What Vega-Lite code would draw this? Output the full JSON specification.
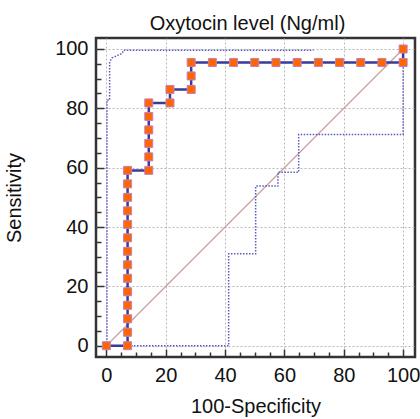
{
  "$schema": "https://vega.github.io/schema/vega-lite/v6.json",
  "width": 319,
  "height": 319,
  "autosize": {"type": "none"},
  "padding": {"left": 96, "top": 38, "right": 5, "bottom": 62},
  "background": "white",
  "title": {"text": "Oxytocin level (Ng/ml)", "font": "Liberation Sans", "fontSize": 20, "fontWeight": "normal", "color": "#111", "offset": 4, "dx": -8},
  "config": {
    "view": {"stroke": "#333", "strokeWidth": 2.5},
    "axis": {"labelFont": "Liberation Sans", "labelFontSize": 20, "labelColor": "#111", "titleFont": "Liberation Sans", "titleFontSize": 20, "titleFontWeight": "normal", "titleColor": "#111"}
  },
  "datasets": {
    "roc": [
      {"i": 1, "x": 0, "y": 0},
      {"i": 2, "x": 7.143, "y": 0},
      {"i": 3, "x": 7.143, "y": 4.545},
      {"i": 4, "x": 7.143, "y": 9.091},
      {"i": 5, "x": 7.143, "y": 13.636},
      {"i": 6, "x": 7.143, "y": 18.182},
      {"i": 7, "x": 7.143, "y": 22.727},
      {"i": 8, "x": 7.143, "y": 27.273},
      {"i": 9, "x": 7.143, "y": 31.818},
      {"i": 10, "x": 7.143, "y": 36.364},
      {"i": 11, "x": 7.143, "y": 40.909},
      {"i": 12, "x": 7.143, "y": 45.455},
      {"i": 13, "x": 7.143, "y": 50},
      {"i": 14, "x": 7.143, "y": 54.545},
      {"i": 15, "x": 7.143, "y": 59.091},
      {"i": 16, "x": 14.286, "y": 59.091},
      {"i": 17, "x": 14.286, "y": 63.636},
      {"i": 18, "x": 14.286, "y": 68.182},
      {"i": 19, "x": 14.286, "y": 72.727},
      {"i": 20, "x": 14.286, "y": 77.273},
      {"i": 21, "x": 14.286, "y": 81.818},
      {"i": 22, "x": 21.429, "y": 81.818},
      {"i": 23, "x": 21.429, "y": 86.364},
      {"i": 24, "x": 28.571, "y": 86.364},
      {"i": 25, "x": 28.571, "y": 90.909},
      {"i": 26, "x": 28.571, "y": 95.455},
      {"i": 27, "x": 35.714, "y": 95.455},
      {"i": 28, "x": 42.857, "y": 95.455},
      {"i": 29, "x": 50, "y": 95.455},
      {"i": 30, "x": 57.143, "y": 95.455},
      {"i": 31, "x": 64.286, "y": 95.455},
      {"i": 32, "x": 71.429, "y": 95.455},
      {"i": 33, "x": 78.571, "y": 95.455},
      {"i": 34, "x": 85.714, "y": 95.455},
      {"i": 35, "x": 92.857, "y": 95.455},
      {"i": 36, "x": 100, "y": 95.455},
      {"i": 37, "x": 100, "y": 100}
    ],
    "upper": [
      {"i": 1, "x": 0.2, "y": 0},
      {"i": 2, "x": 0.2, "y": 82.8},
      {"i": 3, "x": 1.1, "y": 82.8},
      {"i": 4, "x": 1.1, "y": 95.7},
      {"i": 5, "x": 1.9, "y": 97.0},
      {"i": 6, "x": 5.3, "y": 98.5},
      {"i": 7, "x": 5.8, "y": 99.6},
      {"i": 8, "x": 69.8, "y": 99.6}
    ],
    "lower": [
      {"i": 1, "x": 0.2, "y": 0},
      {"i": 2, "x": 41.2, "y": 0},
      {"i": 3, "x": 41.2, "y": 31},
      {"i": 4, "x": 50.3, "y": 31},
      {"i": 5, "x": 50.3, "y": 53.8},
      {"i": 6, "x": 57.8, "y": 53.8},
      {"i": 7, "x": 57.8, "y": 58.5},
      {"i": 8, "x": 64.8, "y": 58.5},
      {"i": 9, "x": 64.8, "y": 71.2},
      {"i": 10, "x": 100, "y": 71.2},
      {"i": 11, "x": 100, "y": 95.5}
    ],
    "diag": [
      {"i": 1, "x": 0, "y": 0},
      {"i": 2, "x": 100, "y": 100}
    ]
  },
  "encoding": {
    "x": {
      "field": "x", "type": "quantitative",
      "scale": {"domain": [-3.5, 104], "nice": false, "zero": false},
      "axis": {
        "title": "100-Specificity",
        "values": [0, 5, 10, 15, 20, 25, 30, 35, 40, 45, 50, 55, 60, 65, 70, 75, 80, 85, 90, 95, 100],
        "format": "d",
        "labelExpr": "datum.value % 20 === 0 ? datum.label : ''",
        "labelOverlap": false, "labelFlush": false, "labelBound": false,
        "domain": false,
        "tickColor": "#333", "tickWidth": 1.5,
        "tickSize": {"condition": {"test": "datum.value % 20 === 0", "value": -8}, "value": -5},
        "gridColor": "#b8b8b8", "gridDash": [2, 2], "gridWidth": 1,
        "gridOpacity": {"condition": {"test": "datum.value % 20 === 0", "value": 1}, "value": 0},
        "labelPadding": 16,
        "titlePadding": 8
      }
    },
    "y": {
      "field": "y", "type": "quantitative",
      "scale": {"domain": [-3.8, 103.7], "nice": false, "zero": false},
      "axis": {
        "title": "Sensitivity",
        "values": [0, 5, 10, 15, 20, 25, 30, 35, 40, 45, 50, 55, 60, 65, 70, 75, 80, 85, 90, 95, 100],
        "format": "d",
        "labelExpr": "datum.value % 20 === 0 ? datum.label : ''",
        "labelOverlap": false, "labelFlush": false, "labelBound": false,
        "domain": false,
        "tickColor": "#333", "tickWidth": 1.5,
        "tickSize": {"condition": {"test": "datum.value % 20 === 0", "value": -8}, "value": -5},
        "gridColor": "#b8b8b8", "gridDash": [2, 2], "gridWidth": 1,
        "gridOpacity": {"condition": {"test": "datum.value % 20 === 0", "value": 1}, "value": 0},
        "labelPadding": 16,
        "titlePadding": 30
      }
    }
  },
  "layer": [
    {
      "data": {"name": "diag"},
      "mark": {"type": "line", "stroke": "#c8a0a0", "strokeWidth": 1.2},
      "encoding": {"order": {"field": "i"}}
    },
    {
      "data": {"name": "upper"},
      "mark": {"type": "line", "stroke": "#5a5ac0", "strokeWidth": 1.5, "strokeDash": [1.5, 1.5]},
      "encoding": {"order": {"field": "i"}}
    },
    {
      "data": {"name": "lower"},
      "mark": {"type": "line", "stroke": "#5a5ac0", "strokeWidth": 1.5, "strokeDash": [1.5, 1.5]},
      "encoding": {"order": {"field": "i"}}
    },
    {
      "data": {"name": "roc"},
      "mark": {"type": "line", "stroke": "#3a3a9a", "strokeWidth": 2.5},
      "encoding": {"order": {"field": "i"}}
    },
    {
      "data": {"name": "roc"},
      "mark": {"type": "point", "shape": "square", "filled": true, "fill": "#ff6600", "stroke": "#c080c0", "strokeWidth": 1, "size": 64, "opacity": 1}
    }
  ]
}
